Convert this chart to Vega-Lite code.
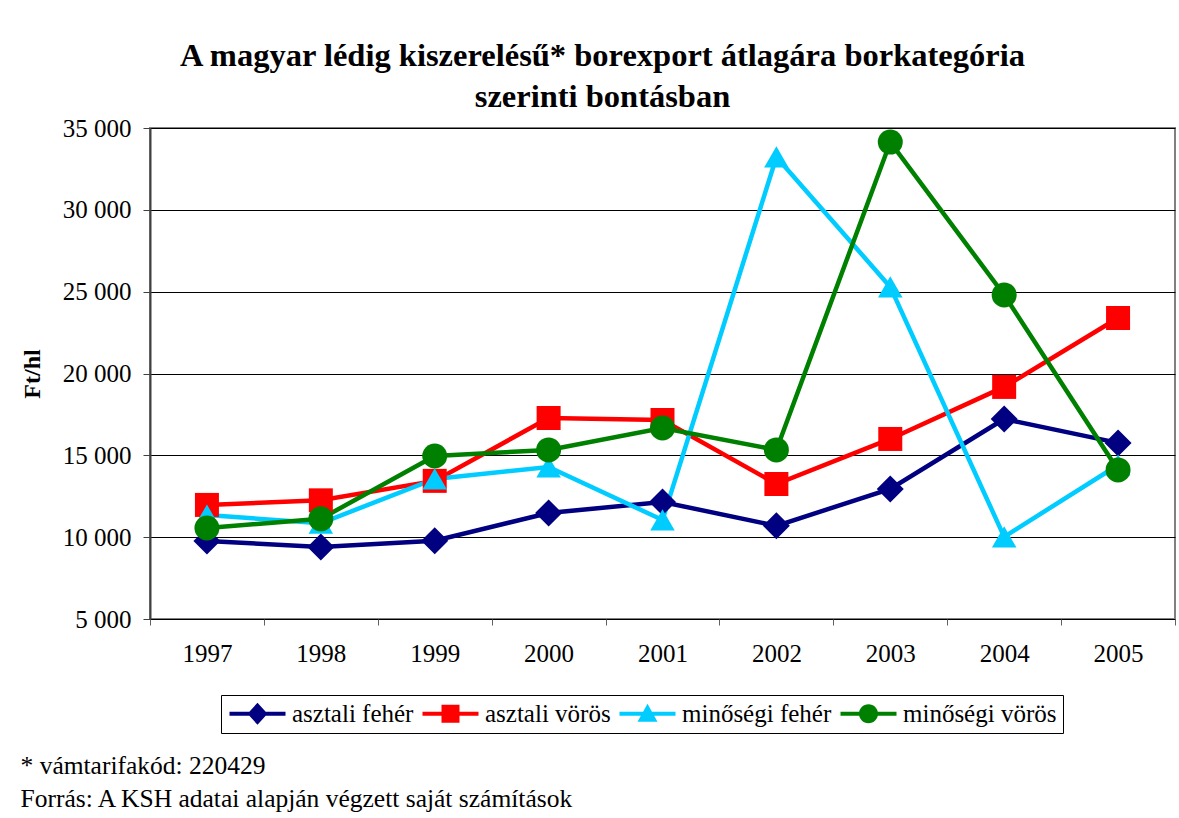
{
  "$schema": "https://vega.github.io/schema/vega-lite/v6.json",
  "width": 1025,
  "height": 491,
  "autosize": {"type": "none"},
  "padding": {"left": 150, "top": 128, "right": 4, "bottom": 199},
  "background": "white",
  "config": {
    "locale": {"number": {"decimal": ",", "thousands": " ", "grouping": [3], "currency": ["", ""]}},
    "font": "Liberation Serif",
    "axis": {"labelFont": "Liberation Serif", "titleFont": "Liberation Serif"},
    "legend": {"labelFont": "Liberation Serif", "titleFont": "Liberation Serif"},
    "view": {"stroke": "#808080", "strokeWidth": 2}
  },
  "title": {
    "text": ["A magyar lédig kiszerelésű* borexport átlagára borkategória", "szerinti bontásban"],
    "font": "Liberation Serif",
    "fontSize": 32.5,
    "fontWeight": "bold",
    "color": "black",
    "anchor": "middle",
    "dx": -60,
    "offset": 3,
    "lineHeight": 41
  },
  "data": {
    "values": [
      {"ev": "1997", "kategoria": "asztali fehér", "ar": 9770},
      {"ev": "1998", "kategoria": "asztali fehér", "ar": 9400},
      {"ev": "1999", "kategoria": "asztali fehér", "ar": 9780},
      {"ev": "2000", "kategoria": "asztali fehér", "ar": 11480},
      {"ev": "2001", "kategoria": "asztali fehér", "ar": 12150},
      {"ev": "2002", "kategoria": "asztali fehér", "ar": 10690},
      {"ev": "2003", "kategoria": "asztali fehér", "ar": 12950},
      {"ev": "2004", "kategoria": "asztali fehér", "ar": 17220},
      {"ev": "2005", "kategoria": "asztali fehér", "ar": 15760},
      {"ev": "1997", "kategoria": "asztali vörös", "ar": 11970},
      {"ev": "1998", "kategoria": "asztali vörös", "ar": 12250},
      {"ev": "1999", "kategoria": "asztali vörös", "ar": 13440},
      {"ev": "2000", "kategoria": "asztali vörös", "ar": 17280},
      {"ev": "2001", "kategoria": "asztali vörös", "ar": 17160},
      {"ev": "2002", "kategoria": "asztali vörös", "ar": 13250},
      {"ev": "2003", "kategoria": "asztali vörös", "ar": 16000},
      {"ev": "2004", "kategoria": "asztali vörös", "ar": 19180},
      {"ev": "2005", "kategoria": "asztali vörös", "ar": 23390},
      {"ev": "1997", "kategoria": "minőségi fehér", "ar": 11350},
      {"ev": "1998", "kategoria": "minőségi fehér", "ar": 10850},
      {"ev": "1999", "kategoria": "minőségi fehér", "ar": 13560},
      {"ev": "2000", "kategoria": "minőségi fehér", "ar": 14290},
      {"ev": "2001", "kategoria": "minőségi fehér", "ar": 11050},
      {"ev": "2002", "kategoria": "minőségi fehér", "ar": 33230},
      {"ev": "2003", "kategoria": "minőségi fehér", "ar": 25290},
      {"ev": "2004", "kategoria": "minőségi fehér", "ar": 10020},
      {"ev": "2005", "kategoria": "minőségi fehér", "ar": 14410},
      {"ev": "1997", "kategoria": "minőségi vörös", "ar": 10560},
      {"ev": "1998", "kategoria": "minőségi vörös", "ar": 11120},
      {"ev": "1999", "kategoria": "minőségi vörös", "ar": 14960},
      {"ev": "2000", "kategoria": "minőségi vörös", "ar": 15330},
      {"ev": "2001", "kategoria": "minőségi vörös", "ar": 16670},
      {"ev": "2002", "kategoria": "minőségi vörös", "ar": 15330},
      {"ev": "2003", "kategoria": "minőségi vörös", "ar": 34140},
      {"ev": "2004", "kategoria": "minőségi vörös", "ar": 24800},
      {"ev": "2005", "kategoria": "minőségi vörös", "ar": 14110}
    ]
  },
  "encoding": {
    "x": {
      "field": "ev",
      "type": "ordinal",
      "scale": {"type": "band", "paddingInner": 0, "paddingOuter": 0},
      "axis": {
        "labelAngle": 0,
        "labelFontSize": 25,
        "labelColor": "black",
        "labelPadding": 16,
        "ticks": true,
        "tickBand": "extent",
        "tickSize": 6,
        "tickColor": "#606060",
        "domain": false,
        "title": ["* vámtarifakód: 220429", "Forrás: A KSH adatai alapján végzett saját számítások"],
        "titleFont": "Liberation Serif",
        "titleFontSize": 25.5,
        "titleFontWeight": "normal",
        "titleColor": "black",
        "titleAnchor": "start",
        "titleAlign": "left",
        "titleBaseline": "alphabetic",
        "titleX": -130,
        "titleY": 154,
        "titleLineHeight": 33
      }
    },
    "y": {
      "field": "ar",
      "type": "quantitative",
      "scale": {"domain": [5000, 35000], "nice": false, "zero": false},
      "axis": {
        "values": [5000, 10000, 15000, 20000, 25000, 30000, 35000],
        "format": ",d",
        "labelFontSize": 25,
        "labelColor": "black",
        "labelPadding": 12,
        "tickSize": 7,
        "tickColor": "#404040",
        "domainColor": "#404040",
        "domainWidth": 2,
        "gridColor": "black",
        "gridWidth": 1,
        "title": "Ft/hl",
        "titleFont": "Liberation Serif",
        "titleFontSize": 24,
        "titleFontWeight": "bold",
        "titleColor": "black",
        "titlePadding": 18
      }
    },
    "color": {
      "field": "kategoria",
      "type": "nominal",
      "scale": {
        "domain": ["asztali fehér", "asztali vörös", "minőségi fehér", "minőségi vörös"],
        "range": ["#000080", "#FF0000", "#00CCFF", "#008000"]
      },
      "legend": {
        "orient": "none",
        "legendX": 71,
        "legendY": 567,
        "direction": "horizontal",
        "title": null,
        "strokeColor": "black",
        "fillColor": "white",
        "padding": 6,
        "labelFontSize": 25,
        "labelColor": "black",
        "symbolSize": 400,
        "symbolType": "M-1,-0.2H4.6V0.2H-1Z",
        "labelOffset": 40,
        "columnPadding": 6,
        "encode": {
          "symbols": {
            "update": {
              "shape": {"signal": "datum.value === 'asztali fehér' ? 'M-1,-0.2H4.6V0.2H-1Z M1.8,-1.1L2.8,0L1.8,1.1L0.8,0Z' : datum.value === 'asztali vörös' ? 'M-1,-0.2H4.6V0.2H-1Z M0.9,-0.9H2.7V0.9H0.9Z' : datum.value === 'minőségi fehér' ? 'M-1,-0.2H4.6V0.2H-1Z M1.8,-1L2.8,0.8H0.8Z' : 'M-1,-0.2H4.6V0.2H-1Z M2.75,0A0.95,0.95 0 1,1 0.85,0A0.95,0.95 0 1,1 2.75,0Z'"},
              "fill": {"scale": "color", "field": "value"},
              "stroke": {"value": null},
              "strokeWidth": {"value": 0},
              "opacity": {"value": 1},
              "fillOpacity": {"value": 1}
            }
          }
        }
      }
    }
  },
  "layer": [
    {
      "mark": {"type": "line", "strokeWidth": 4.5}
    },
    {
      "transform": [{"filter": "datum.kategoria === 'asztali fehér'"}],
      "mark": {"type": "point", "filled": true, "opacity": 1, "shape": "diamond", "size": 729}
    },
    {
      "transform": [{"filter": "datum.kategoria === 'asztali vörös'"}],
      "mark": {"type": "point", "filled": true, "opacity": 1, "shape": "square", "size": 576}
    },
    {
      "transform": [{"filter": "datum.kategoria === 'minőségi fehér'"}],
      "mark": {"type": "point", "filled": true, "opacity": 1, "shape": "triangle-up", "size": 600}
    },
    {
      "transform": [{"filter": "datum.kategoria === 'minőségi vörös'"}],
      "mark": {"type": "point", "filled": true, "opacity": 1, "shape": "circle", "size": 625}
    }
  ]
}
